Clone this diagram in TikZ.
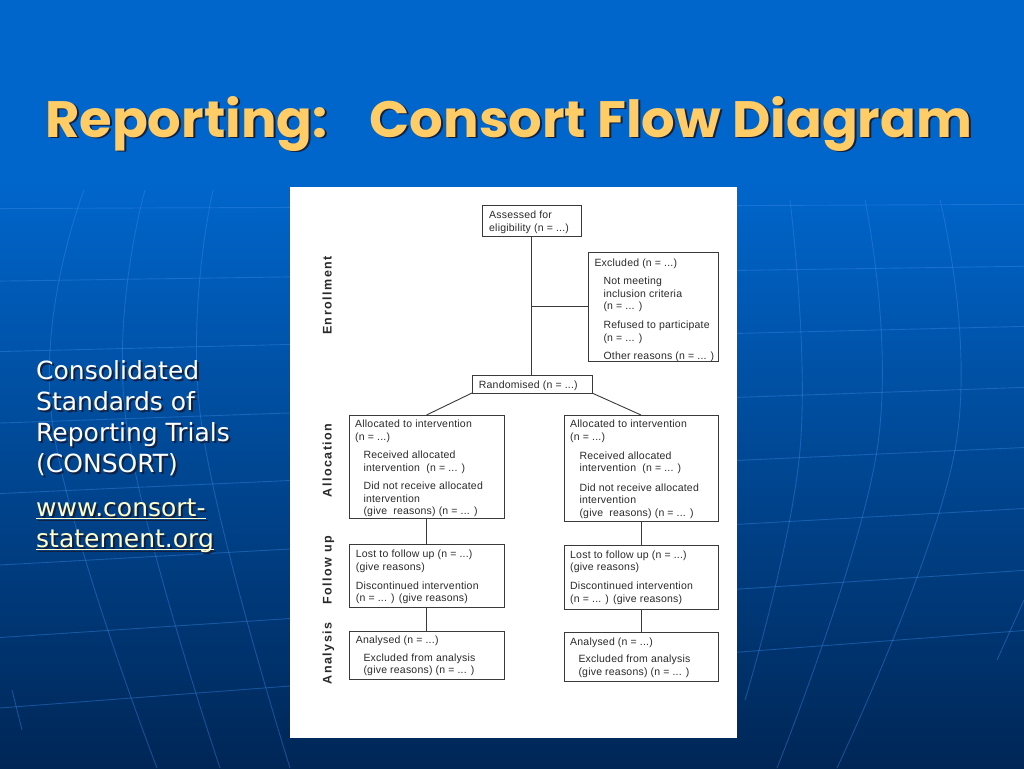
\documentclass[tikz,border=0pt]{standalone}
\usepackage{graphicx}
\usepackage{fontspec}
\setmainfont{Liberation Sans}
\newfontfamily\boxfont[LetterSpace=2]{Liberation Sans}
\newfontfamily\sidefont[LetterSpace=12]{Liberation Sans}
\newfontfamily\bodyfont{DejaVu Sans}
\newfontfamily\titlefont{Poppins}
\definecolor{bgtop}{HTML}{0066CC}
\definecolor{bgmid}{HTML}{00489A}
\definecolor{bgbot}{HTML}{002656}
\definecolor{gridc}{HTML}{3D8BE8}
\definecolor{titlec}{HTML}{FFCC66}
\definecolor{shadowc}{HTML}{14203F}
\definecolor{urlc}{HTML}{FFFFCC}
\definecolor{boxline}{HTML}{3A3A3A}
\definecolor{boxtext}{HTML}{2A2A2A}
\newcommand\myuline[1]{\setbox0\hbox{#1}\rlap{\rule[-3pt]{\wd0}{1.4pt}}\box0}
\newcommand\shd[2]{\rlap{\kern#1\raisebox{-#1}{\textcolor{shadowc}{#2}}}#2}
\tikzset{
  box/.style={draw=boxline, line width=0.9pt, fill=white, inner sep=0pt, outer sep=0pt, anchor=north west},
  txt/.style={inner sep=0pt, anchor=north west, align=left, text=boxtext, font=\boxfont\fontsize{10.5}{12.5}\selectfont},
  side/.style={inner sep=0pt, rotate=90, anchor=base, text=boxtext, font=\sidefont\bfseries\fontsize{12.5}{14}\selectfont},
  conn/.style={draw=boxline, line width=0.9pt},
  grid/.style={draw=gridc, line width=0.9pt, opacity=0.4},
  body/.style={inner sep=0pt, anchor=north west, align=left, font=\bodyfont\fontsize{25}{31}\selectfont},
}
\begin{document}
\begin{tikzpicture}[x=1pt,y=-1pt]
\useasboundingbox (0,0) rectangle (1024,768);
% background
\fill[bgtop] (0,0) rectangle (1024,768);
\shade[top color=bgtop, middle color=bgmid, bottom color=bgbot] (0,180) rectangle (1024,768);
% faint perspective grid
\foreach \yl in {208,279,348,418,487,557,628,697} {
  \draw[grid] (0,{180+(\yl-180)*1.0212}) -- (1024,{180+(\yl-180)*0.8714});
}
\draw[grid] plot[smooth, tension=0.7] coordinates {(84,190) (52,420) (157,768)};
\draw[grid] plot[smooth, tension=0.7] coordinates {(145,190) (126,420) (220,768)};
\draw[grid] plot[smooth, tension=0.7] coordinates {(213,190) (201,420) (290,768)};
\draw[grid] plot[smooth, tension=0.7] coordinates {(12,690) (22,730)};
\draw[grid] plot[smooth, tension=0.7] coordinates {(790,200) (800,450) (745,700)};
\draw[grid] plot[smooth, tension=0.7] coordinates {(865,200) (877,450) (777,768)};
\draw[grid] plot[smooth, tension=0.7] coordinates {(940,200) (955,450) (837,768)};
\draw[grid] plot[smooth, tension=0.7] coordinates {(1024,600) (997,660)};

% title (with its shadow in the same text)
\node[anchor=base west, inner sep=0pt, text=titlec] (title) at (45,137)
  {\resizebox{927pt}{41pt}{\titlefont\bfseries\fontsize{57}{60}\selectfont\shd{2.2pt}{Reporting:\hspace{0.8em}Consort Flow Diagram}}};

% left text
\node[body, text=white] (cons) at (36,360.2)
  {\shd{2pt}{Consolidated}\\\shd{2pt}{Standards of}\\\shd{2pt}{Reporting Trials}\\\shd{2pt}{(CONSORT)}};
\node[body, text=urlc] (url) at (36,498.5)
  {\shd{2pt}{\myuline{www.consort-}}\\\shd{2pt}{\myuline{statement.org}}};

% panel
\fill[white] (290,187) rectangle (737,738);

% boxes
\node[box, minimum width=99pt, minimum height=31pt] (assess) at (482,205) {};
\node[box, minimum width=130pt, minimum height=109pt] (excl) at (588,252) {};
\node[box, minimum width=120pt, minimum height=18pt] (rand) at (472,375) {};
\node[box, minimum width=155pt, minimum height=103pt] (alloc1) at (349,415) {};
\node[box, minimum width=154pt, minimum height=106pt] (alloc2) at (564,415) {};
\node[box, minimum width=155pt, minimum height=63pt] (follow1) at (349,544) {};
\node[box, minimum width=154pt, minimum height=64pt] (follow2) at (564,545) {};
\node[box, minimum width=155pt, minimum height=48pt] (anal1) at (349,631) {};
\node[box, minimum width=154pt, minimum height=49pt] (anal2) at (564,632) {};

% connectors
\draw[conn] (assess.south) -- (assess.south |- rand.north);
\draw[conn] (assess.south |- excl.west) -- (excl.west);
\draw[conn] (rand.south west) -- (alloc1.north);
\draw[conn] (rand.south east) -- (alloc2.north);
\draw[conn] (alloc1.south) -- (follow1.north);
\draw[conn] (alloc2.south) -- (follow2.north);
\draw[conn] (follow1.south) -- (anal1.north);
\draw[conn] (follow2.south) -- (anal2.north);

% box texts
\node[txt] (assessT) at (489,211.1) {Assessed for\\eligibility (n = ...)};
\node[txt] (exclT) at (594.3,258.4) {Excluded (n = ...)\\[6.2pt]
  \hspace*{9pt}Not meeting\\\hspace*{9pt}inclusion criteria\\\hspace*{9pt}(n = ... )\\[6.2pt]
  \hspace*{9pt}Refused to participate\\\hspace*{9pt}(n = ... )\\[6.2pt]
  \hspace*{9pt}Other reasons (n = ... )};
\node[txt] (randT) at (478.7,380.7) {Randomised (n = ...)};
\node[txt] (alloc1T) at (355,419.7) {Allocated to intervention\\(n = ...)\\[6.2pt]
  \hspace*{8.3pt}Received allocated\\\hspace*{8.3pt}intervention\ \ (n = ... )\\[6.2pt]
  \hspace*{8.3pt}Did not receive allocated\\\hspace*{8.3pt}intervention\\\hspace*{8.3pt}(give\ \ reasons) (n = ... )};
\node[txt] (alloc2T) at (570,419.7) {Allocated to intervention\\(n = ...)\\[6.8pt]
  \hspace*{9.3pt}Received allocated\\\hspace*{9.3pt}intervention\ \ (n = ... )\\[6.8pt]
  \hspace*{9.3pt}Did not receive allocated\\\hspace*{9.3pt}intervention\\\hspace*{9.3pt}(give\ \ reasons) (n = ... )};
\node[txt] (follow1T) at (355.7,549.7) {Lost to follow up (n = ...)\\(give reasons)\\[6.5pt]
  Discontinued intervention\\(n = ... ) (give reasons)};
\node[txt] (follow2T) at (570,550.5) {Lost to follow up (n = ...)\\(give reasons)\\[6.5pt]
  Discontinued intervention\\(n = ... ) (give reasons)};
\node[txt] (anal1T) at (355.7,635.7) {Analysed (n = ...)\\[5pt]
  \hspace*{7.6pt}Excluded from analysis\\\hspace*{7.6pt}(give reasons) (n = ... )};
\node[txt] (anal2T) at (570,637.4) {Analysed (n = ...)\\[5pt]
  \hspace*{8.3pt}Excluded from analysis\\\hspace*{8.3pt}(give reasons) (n = ... )};

% side labels
\node[side] (enr) at (331.5,295.5) {Enrollment};
\node[side] (allo) at (331.5,460.5) {Allocation};
\node[side] (fol) at (331.5,570.5) {Follow up};
\node[side] (ana) at (331.5,653.5) {Analysis};
\end{tikzpicture}
\end{document}
